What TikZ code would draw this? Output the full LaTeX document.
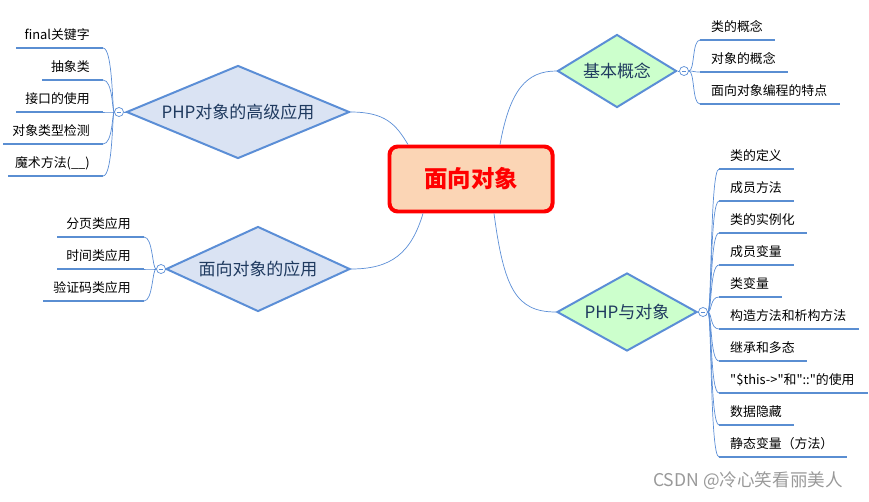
\documentclass[tikz,border=0pt]{standalone}
\usepackage{fontspec}
\setmainfont{Noto Sans CJK SC}
\newfontfamily\cnfont{Noto Sans CJK SC}
\usetikzlibrary{shapes.geometric}
\definecolor{linkc}{HTML}{5B8ED6}
\definecolor{leafc}{HTML}{5A8ED2}
\definecolor{bluefill}{HTML}{DAE3F3}
\definecolor{greenfill}{HTML}{CCFFCC}
\definecolor{rootfill}{HTML}{FBD5B5}
\definecolor{topictext}{HTML}{1F3A5F}

\begin{document}
\begin{tikzpicture}[x=0.03cm,y=-0.03cm,
  root/.style={draw=red,line width=3.4pt,rounded corners=7pt,fill=rootfill,minimum width=4.89cm,minimum height=1.95cm,text=red,font=\fontsize{20}{24}\selectfont\bfseries},
  topic/.style={diamond,draw=linkc,line width=1.7pt,inner sep=0pt,text=topictext,font=\fontsize{14.5}{17}\selectfont},
  toggle/.style={circle,draw=linkc,fill=white,line width=0.6pt,minimum size=0.27cm,inner sep=0pt,
    path picture={\draw[linkc,line width=0.6pt] ([xshift=-0.07cm]path picture bounding box.center) -- ([xshift=0.07cm]path picture bounding box.center);}},
  item/.style={inner sep=0pt,font=\cnfont\fontsize{11}{13}\selectfont},
  leaf/.style={draw=leafc,line width=2.5pt},
  link/.style={draw=linkc,line width=0.6pt}]
  \useasboundingbox (0,0) rectangle (869,501);

  \node[root] (root) at (471,179) {面向对象};

  \node[topic,fill=bluefill,minimum width=6.69cm,minimum height=2.79cm,aspect=2.4] (adv) at (238,112) {PHP对象的高级应用};
  \node[topic,fill=bluefill,minimum width=5.52cm,minimum height=2.55cm,aspect=2.16] (app) at (258,269) {面向对象的应用};
  \node[topic,fill=greenfill,minimum width=3.57cm,minimum height=2.19cm,aspect=1.63] (basic) at (617,71) {基本概念};
  \node[topic,fill=greenfill,minimum width=4.2cm,minimum height=2.34cm,aspect=1.8] (php) at (627,312) {PHP与对象};

  \draw[link] ([xshift=-1.89cm]root.north) .. controls +(-12,-20) and +(35,0) .. (adv.east);
  \draw[link] ([xshift=-1.44cm]root.south) .. controls +(-12,40) and +(40,0) .. (app.east);
  \draw[link] ([xshift=0.87cm]root.north) .. controls +(10,-55) and +(-30,0) .. (basic.west);
  \draw[link] ([xshift=0.69cm]root.south) .. controls +(10,75) and +(-40,0) .. (php.west);

  \node[toggle] (tadv) at (119,112) {};
  \node[toggle] (tapp) at (161,269) {};
  \node[toggle] (tbasic) at (684,71) {};
  \node[toggle] (tphp) at (703,312) {};
  \draw[link] (adv.west) -- (tadv.east);
  \draw[link] (app.west) -- (tapp.east);
  \draw[link] (basic.east) -- (tbasic.west);
  \draw[link] (php.east) -- (tphp.west);

  \foreach \txt/\yy/\xs [count=\i] in {final关键字/48/16,抽象类/80/42,接口的使用/112/16,对象类型检测/144/3,魔术方法(\_\_)/176/8}{
    \coordinate (a\i) at (103,\yy);
    \draw[leaf] (\xs,\yy) -- (a\i);
    \node[item,anchor=east] (at\i) at (90,\yy-13) {\txt};
    \draw[link] (tadv.west) .. controls +(-2,0) and +(10,0) .. (a\i);
  }

  \foreach \txt/\yy/\xs [count=\i] in {分页类应用/237/57,时间类应用/269/57,验证码类应用/301/43}{
    \coordinate (p\i) at (144,\yy);
    \draw[leaf] (\xs,\yy) -- (p\i);
    \node[item,anchor=east] (pt\i) at (131,\yy-13) {\txt};
    \draw[link] (tapp.west) .. controls +(-4,0) and +(9,0) .. (p\i);
  }

  \foreach \txt/\yy/\xe [count=\i] in {类的概念/40/775,对象的概念/72/788,面向对象编程的特点/104/840}{
    \coordinate (b\i) at (700,\yy);
    \draw[leaf] (b\i) -- (\xe,\yy);
    \node[item,anchor=west] (bt\i) at (711,\yy-13) {\txt};
    \draw[link] (tbasic.east) .. controls +(6,0) and +(-8,0) .. (b\i);
  }

  \foreach \txt/\yy/\xe [count=\i] in {类的定义/169/794,成员方法/201/794,类的实例化/233/807,成员变量/265/794,类变量/297/782,
      构造方法和析构方法/329/859,继承和多态/361/807,"\$this->"和"::"的使用/393/868,数据隐藏/425/794,静态变量（方法）/457/847}{
    \coordinate (c\i) at (719,\yy);
    \draw[leaf] (c\i) -- (\xe,\yy);
    \node[item,anchor=west] (ct\i) at (730,\yy-13) {\txt};
    \draw[link] (tphp.east) .. controls +(4,0) and +(-9,0) .. (c\i);
  }

  \node[text=black!40,font=\fontsize{15}{18}\selectfont] (mark) at (748,481) {CSDN @冷心笑看丽美人};
\end{tikzpicture}
\end{document}
